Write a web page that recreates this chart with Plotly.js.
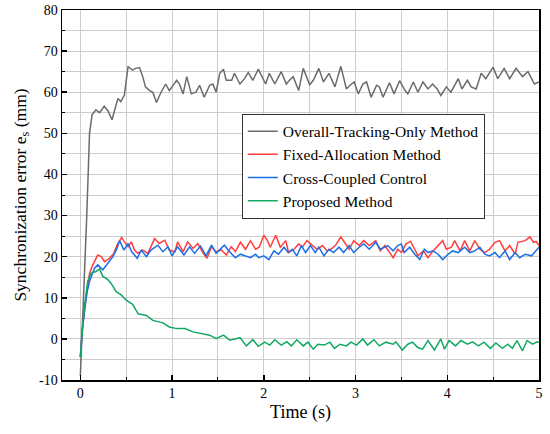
<!DOCTYPE html>
<html>
<head>
<meta charset="utf-8">
<script src="https://cdn.plot.ly/plotly-3.0.1.min.js"></script>
<style>html,body{margin:0;padding:0;background:#fff;}#chart{width:550px;height:434px;}</style>
</head>
<body>
<div id="chart"></div>
<script>
const seriesNames = ['Overall-Tracking-Only Method', 'Fixed-Allocation Method', 'Cross-Coupled Control', 'Proposed Method'];

const tGray = [0,0.035,0.07,0.1,0.128,0.17,0.21,0.26,0.3,0.345,0.39,0.41,0.44,0.48,0.52,0.57,0.6,0.645,0.68,0.71,0.755,0.79,0.83,0.88,0.93,0.97,1.05,1.08,1.12,1.16,1.21,1.26,1.3,1.35,1.41,1.445,1.48,1.52,1.56,1.59,1.65,1.68,1.74,1.79,1.83,1.88,1.94,1.99,2.02,2.06,2.12,2.19,2.245,2.28,2.32,2.38,2.43,2.5,2.54,2.6,2.65,2.71,2.775,2.84,2.9,2.94,2.985,3.03,3.08,3.12,3.17,3.23,3.26,3.3,3.37,3.42,3.48,3.54,3.57,3.63,3.68,3.735,3.79,3.84,3.89,3.93,3.99,4.04,4.12,4.16,4.22,4.26,4.315,4.37,4.42,4.5,4.55,4.62,4.68,4.75,4.82,4.88,4.95,5.0];
const yGray = [-9,10,30,50,54.5,55.7,55,56.6,55.5,53.3,56.5,58.5,57.7,59.3,66.2,65.4,65.8,66,63.8,61.3,60.4,60,57.5,60,62,60.4,62.9,62,59.6,63.8,59.6,60,61.7,58.8,61.7,62,60,64.6,65.6,62.9,62.9,64.6,62,63.3,64.8,62.9,65.6,63.3,62,64.6,62,65,62,62.9,63.8,60.4,65.8,61.8,62.9,65.8,62.5,64.6,61.3,66.3,60.8,61.7,62.5,59.6,62,62.5,58.8,61.7,61.3,58.8,62.3,59.6,62.8,60.4,59.6,62.5,60,62.5,60.8,62,60.8,59.2,61.3,60,63.3,60.8,62.9,61.3,60.8,64.6,63.3,66.1,63.3,65.8,63.3,65.8,63.8,65,62,62.5];

const tRed = [0,0.02,0.045,0.07,0.1,0.136,0.19,0.227,0.264,0.318,0.365,0.4,0.45,0.48,0.52,0.555,0.59,0.627,0.68,0.736,0.81,0.86,0.92,0.97,1.03,1.06,1.12,1.17,1.23,1.28,1.34,1.38,1.43,1.48,1.54,1.59,1.645,1.69,1.745,1.8,1.855,1.91,1.95,2.0,2.04,2.07,2.13,2.18,2.24,2.27,2.33,2.38,2.42,2.47,2.53,2.58,2.64,2.69,2.73,2.78,2.84,2.89,2.93,2.98,3.04,3.09,3.15,3.22,3.27,3.32,3.37,3.41,3.46,3.5,3.55,3.6,3.645,3.68,3.74,3.79,3.845,3.9,3.95,3.99,4.045,4.08,4.14,4.19,4.245,4.3,4.355,4.41,4.46,4.52,4.57,4.63,4.68,4.74,4.77,4.85,4.9,4.94,4.97,5.0];
const yRed = [-4.4,2,7,11.5,16,18,20.4,20,18.8,19.6,20.8,22.8,24.7,23.6,22.4,23.6,21.6,20.8,21.6,20.8,24.4,23.2,24,21.6,21.2,23.6,21.2,23.6,22,23.2,20.8,19.6,22.4,21.2,21.6,20.4,22.4,21.2,23.5,21.8,23.9,21.8,22.3,25.2,23.9,22.3,25.2,22.3,23.9,21,21.8,23.1,22.3,23.9,22.7,21.8,22.7,21.4,21.8,22.7,24.8,23.1,21.8,23.9,22.7,23.9,22.7,23.9,21.4,22.7,21,19.75,21.8,21,23.1,23.7,21.8,20.2,21.4,19.75,21.4,22.7,23.9,21.8,22.3,23.9,21.4,23.9,21.4,23.9,21.8,21,21.8,23.5,23.9,21.4,22.7,20.6,23.5,23.9,24.8,23.5,23.7,22.7];

const tBlue = [0,0.02,0.045,0.07,0.1,0.155,0.19,0.245,0.3,0.355,0.4,0.427,0.475,0.52,0.56,0.62,0.665,0.72,0.77,0.845,0.9,0.955,1.0,1.06,1.13,1.19,1.245,1.31,1.37,1.43,1.48,1.57,1.62,1.65,1.69,1.745,1.8,1.855,1.91,1.945,2.0,2.055,2.11,2.16,2.22,2.265,2.31,2.36,2.41,2.455,2.51,2.56,2.6,2.655,2.71,2.76,2.82,2.87,2.93,2.98,3.04,3.09,3.15,3.22,3.27,3.32,3.35,3.41,3.46,3.5,3.53,3.59,3.645,3.7,3.75,3.79,3.845,3.9,3.95,4.01,4.06,4.12,4.19,4.245,4.3,4.355,4.41,4.46,4.52,4.57,4.63,4.68,4.74,4.79,4.85,4.92,4.97,5.0];
const yBlue = [-4.4,2,6.5,11,14,17.2,18,16.8,18.4,20,22,23.9,21.6,23.2,21.2,19.6,21.6,20,21.6,22.8,21.2,22.4,20.2,22.4,20.4,22.4,20.8,22.6,20.2,22.8,20.8,22.8,21.4,20.6,19.75,20.6,20.2,19.75,20.6,19.75,20.2,19.3,21.4,20.6,22.3,21,21.8,20.2,22.7,21,22.7,21,22.3,20.2,21.8,21,22.3,21,22.7,21,22.3,23.1,21.8,23.5,21.8,22.4,22.7,21.4,22.7,23.1,21,22.3,20.6,19.3,21.8,21,21.4,20.6,19.3,20.6,21.4,21,22.3,21,21.4,22.3,20.6,20.2,21,19.75,21.4,19.3,21,19.75,20.6,20.2,21.4,22.3];

const tGreen = [0,0.02,0.045,0.08,0.118,0.17,0.21,0.245,0.3,0.336,0.39,0.445,0.5,0.57,0.63,0.72,0.79,0.9,0.97,1.05,1.14,1.23,1.3,1.41,1.48,1.56,1.63,1.74,1.81,1.88,1.94,2.01,2.065,2.12,2.19,2.25,2.3,2.36,2.43,2.48,2.54,2.59,2.66,2.72,2.77,2.83,2.9,2.95,3.01,3.08,3.13,3.2,3.26,3.33,3.41,3.44,3.51,3.57,3.62,3.68,3.73,3.79,3.86,3.93,3.97,4.02,4.09,4.15,4.22,4.275,4.34,4.4,4.47,4.53,4.6,4.66,4.71,4.76,4.82,4.87,4.93,4.98,5.0];
const yGreen = [-4.4,2,8,14,16,16.4,17,15.2,14.4,13.5,11.5,10.7,9.4,8.4,6.1,5.7,4.5,3.9,2.9,2.5,2.5,1.7,1.4,0.9,0.05,0.9,-0.3,0.3,-1.7,-0.2,-1.8,-0.8,-1.5,-0.2,-1.5,-0.7,-1.7,-0.2,-1.7,-0.8,-2.5,-1.3,-1.5,-0.8,-2.3,-1.3,-1.7,-0.8,-1.5,0,-1.5,-0.2,-1.7,-0.8,-1.3,-0.7,-2.7,-1.3,-0.8,-2.1,-2.5,-0.4,-2.7,0,-2.5,-0.4,-1.7,-0.4,-1.3,-0.7,-1.7,-0.8,-2.3,-1,-2.3,-1.3,-2.3,-0.4,-2.9,-0.4,-1.3,-0.7,-0.8];

const yTickVals = [-10,0,10,20,30,40,50,60,70,80];
const yTickText = ['-10','0','10','20','30','40','50','60','70','80'];
const xTickVals = [0,1,2,3,4,5];
const xTickText = ['0','1','2','3','4','5'];

const colors = ['#6b6b6b', '#ff3d3d', '#1c6fe6', '#12a862'];
const serif = 'Liberation Serif, Times New Roman, serif';

const xs = [tGray, tRed, tBlue, tGreen];
const ys = [yGray, yRed, yBlue, yGreen];
const traces = xs.map((x, i) => ({
  x: x, y: ys[i], type: 'scatter', mode: 'lines', name: seriesNames[i],
  line: {color: colors[i], width: 1.5}
}));

const gridColor = '#cdcdcd';
const layout = {
  width: 550, height: 434,
  margin: {l: 62, r: 11, t: 10, b: 54},
  paper_bgcolor: '#fff', plot_bgcolor: '#fff',
  font: {family: serif, color: '#000', size: 14},
  showlegend: true,
  legend: {
    x: 0.377, y: 0.72, xanchor: 'left', yanchor: 'top',
    bgcolor: '#fff', bordercolor: '#333', borderwidth: 1,
    font: {family: serif, size: 15.5, color: '#000'},
    tracegroupgap: 0
  },
  xaxis: {
    range: [-0.2, 5], tickmode: 'array', tickvals: xTickVals, ticktext: xTickText,
    ticks: 'inside', ticklen: 5, tickwidth: 1.5, tickcolor: '#000',
    showline: true, linecolor: '#000', linewidth: 1.5, mirror: true,
    showgrid: true, gridcolor: gridColor, gridwidth: 1, zeroline: false,
    minor: {tickmode: 'linear', tick0: 0, dtick: 0.5, ticks: 'inside', ticklen: 3, tickwidth: 1, tickcolor: '#000', showgrid: true, gridcolor: gridColor, gridwidth: 1},
    tickfont: {family: serif, size: 14},
    title: {text: 'Time (s)', font: {family: serif, size: 18}, standoff: 5}
  },
  yaxis: {
    range: [-10, 80], tickmode: 'array', tickvals: yTickVals, ticktext: yTickText,
    ticks: 'inside', ticklen: 5, tickwidth: 1.5, tickcolor: '#000',
    showline: true, linecolor: '#000', linewidth: 1.5, mirror: true,
    showgrid: true, gridcolor: gridColor, gridwidth: 1, zeroline: false,
    minor: {tickmode: 'linear', tick0: -10, dtick: 5, ticks: 'inside', ticklen: 3, tickwidth: 1, tickcolor: '#000', showgrid: true, gridcolor: gridColor, gridwidth: 1},
    tickfont: {family: serif, size: 14},
    title: {text: 'Synchronization error e<sub>s</sub> (mm)', font: {family: serif, size: 17.5}, standoff: 8}
  }
};

Plotly.newPlot('chart', traces, layout, {displayModeBar: false, staticPlot: true});
</script>
</body>
</html>
